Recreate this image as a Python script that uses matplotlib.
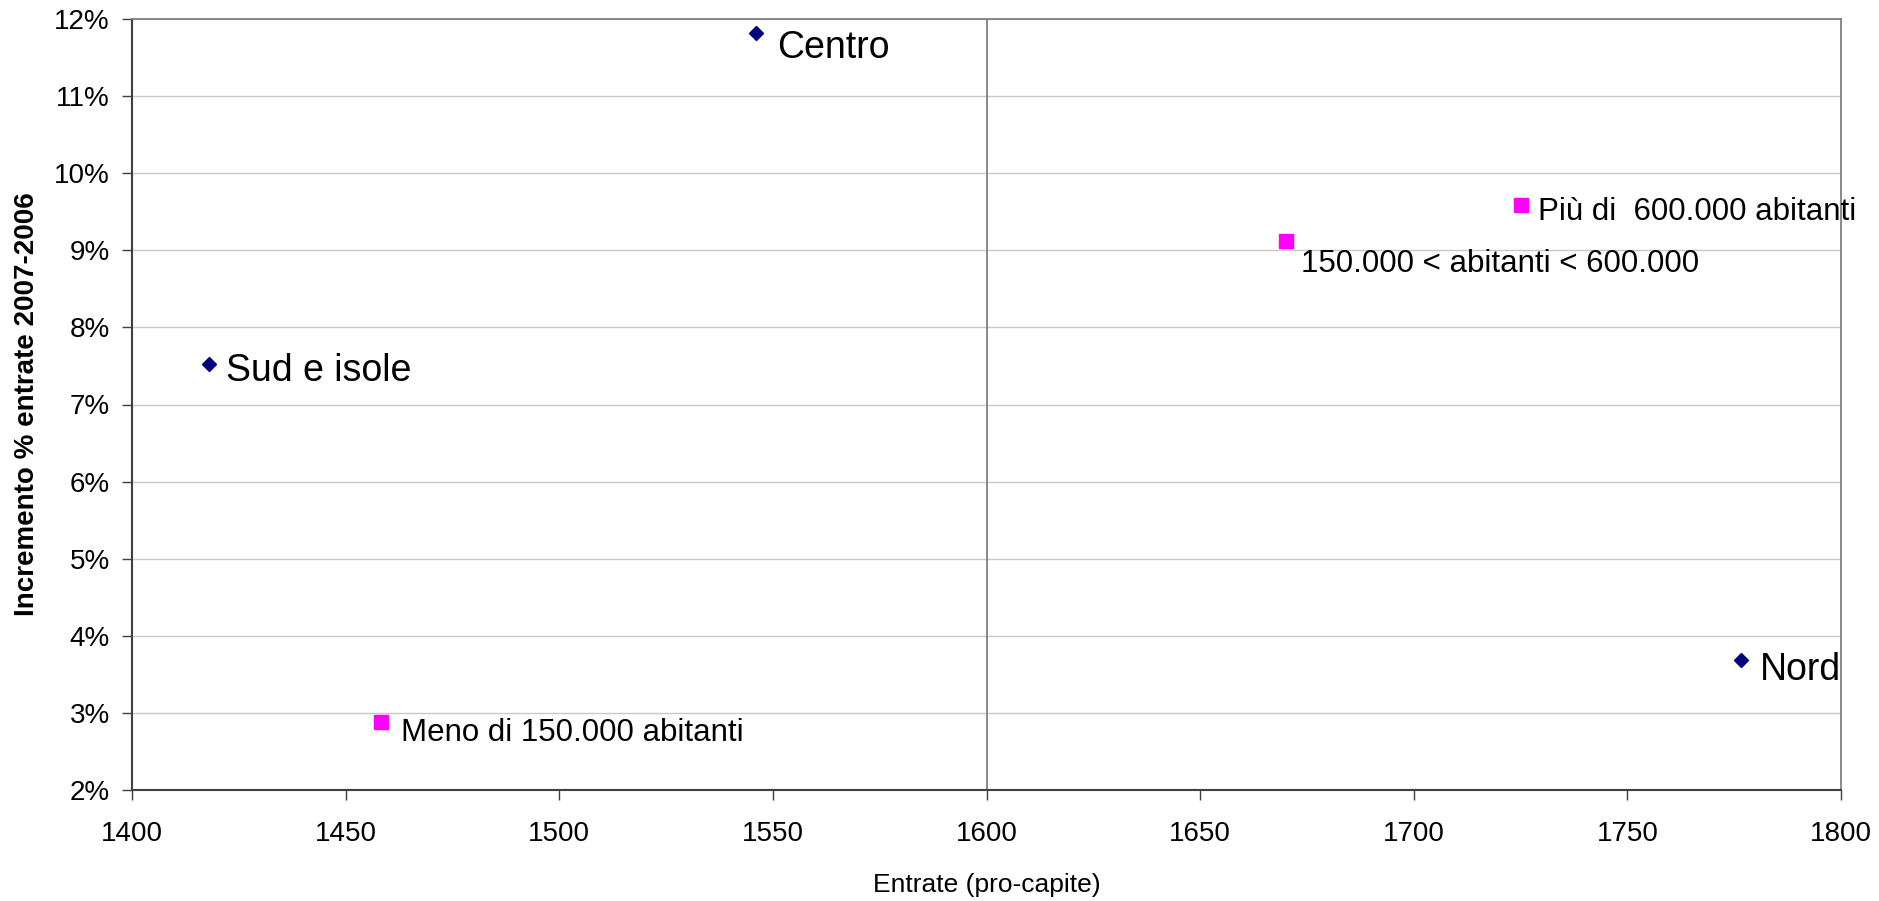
import matplotlib.pyplot as plt
from matplotlib.ticker import FuncFormatter

plt.rcParams['font.family'] = ['Liberation Sans', 'DejaVu Sans']

# Aree geografiche
aree = ['Centro', 'Sud e isole', 'Nord']
aree_x = [1546, 1418, 1776.5]
aree_y = [0.1182, 0.0753, 0.0369]

# Classi di ampiezza
classi = ['Meno di 150.000 abitanti', 'Più di  600.000 abitanti', '150.000 < abitanti < 600.000']
classi_x = [1458.3, 1725, 1670]
classi_y = [0.0288, 0.0959, 0.0912]

fig = plt.figure(figsize=(18.79, 9.01), dpi=100)
ax = fig.add_axes([132 / 1879, 1 - 790 / 901, (1841 - 132) / 1879, (790 - 19) / 901])

ax.plot(aree_x, aree_y, linestyle='none', marker='D', markersize=7.5, color='#000080', zorder=3)
ax.plot(classi_x, classi_y, linestyle='none', marker='s', markersize=9.5, color='#FF00FF', zorder=3)

# etichette dei punti (offset in pixel)
off_aree = [(21, -15), (17, -7), (19, -10)]
for lab, x, y, o in zip(aree, aree_x, aree_y, off_aree):
    ax.annotate(lab, (x, y), xytext=o, textcoords='offset pixels', va='center', ha='left', fontsize=27)
off_classi = [(20, -11), (17, -7), (15, -23)]
for lab, x, y, o in zip(classi, classi_x, classi_y, off_classi):
    ax.annotate(lab, (x, y), xytext=o, textcoords='offset pixels', va='center', ha='left', fontsize=22.5)

ax.set_xlim(1400, 1800)
ax.set_ylim(0.02, 0.12)
ax.set_xticks(range(1400, 1801, 50))
ax.set_yticks([i / 100 for i in range(2, 13)])
ax.yaxis.set_major_formatter(FuncFormatter(lambda v, p: f'{v * 100:.0f}%'))

ax.axvline(1600, color='#808080', linewidth=1.3, zorder=1)
ax.grid(axis='y', color='#c8c8c8', linewidth=1)
ax.set_axisbelow(True)

for s in ['top', 'right']:
    ax.spines[s].set_color('#808080')
    ax.spines[s].set_linewidth(1.3)
for s in ['left', 'bottom']:
    ax.spines[s].set_color('#404040')
    ax.spines[s].set_linewidth(1.5)

ax.tick_params(axis='both', direction='out', length=7, width=1, colors='#404040', labelcolor='black', labelsize=20)
ax.tick_params(axis='x', pad=15)
ax.tick_params(axis='y', pad=9)

ax.set_xlabel('Entrate (pro-capite)', fontsize=19, labelpad=19)
ax.set_ylabel('Incremento % entrate 2007-2006', fontsize=20, fontweight='bold', labelpad=10)

fig.savefig('out.png', dpi=100)
